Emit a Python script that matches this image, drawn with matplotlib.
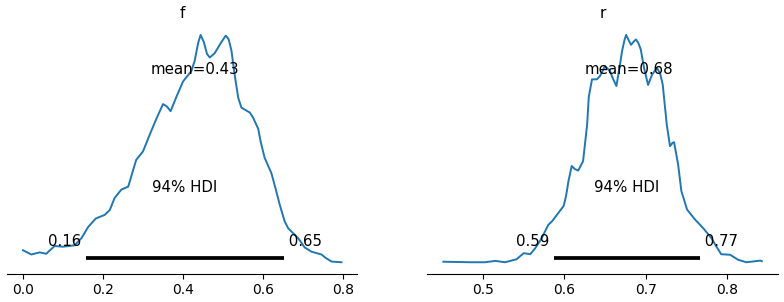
import numpy as np
import matplotlib
matplotlib.use("Agg")
import matplotlib.pyplot as plt

# posterior density of f
f_x = [0.000, 0.021, 0.042, 0.058, 0.079, 0.100, 0.129, 0.146, 0.163, 0.182,
       0.204, 0.217, 0.229, 0.246, 0.263, 0.274, 0.283, 0.300, 0.317, 0.334,
       0.350, 0.359, 0.369, 0.384, 0.400, 0.421, 0.429, 0.438, 0.444, 0.452,
       0.460, 0.467, 0.479, 0.496, 0.507, 0.514, 0.521, 0.529, 0.538, 0.546,
       0.567, 0.575, 0.588, 0.594, 0.604, 0.621, 0.632, 0.642, 0.654, 0.663,
       0.688, 0.704, 0.721, 0.746, 0.757, 0.771, 0.796]
f_d = [0.17, 0.11, 0.14, 0.12, 0.23, 0.22, 0.24, 0.34, 0.50, 0.62,
       0.67, 0.74, 0.91, 1.03, 1.07, 1.28, 1.45, 1.57, 1.81, 2.04,
       2.24, 2.21, 2.14, 2.35, 2.56, 2.71, 2.85, 3.11, 3.22, 3.12,
       2.95, 2.90, 2.96, 3.12, 3.21, 3.16, 3.00, 2.66, 2.33, 2.19,
       2.12, 2.05, 1.89, 1.71, 1.48, 1.26, 1.03, 0.81, 0.58, 0.48,
       0.34, 0.21, 0.15, 0.11, 0.06, 0.01, 0.00]

# posterior density of r
r_x = [0.451, 0.484, 0.502, 0.515, 0.527, 0.541, 0.550, 0.558, 0.564, 0.572,
       0.580, 0.585, 0.599, 0.602, 0.605, 0.609, 0.613, 0.617, 0.623, 0.628,
       0.630, 0.634, 0.640, 0.644, 0.650, 0.656, 0.660, 0.664, 0.668, 0.671,
       0.674, 0.676, 0.679, 0.682, 0.685, 0.688, 0.691, 0.694, 0.698, 0.703,
       0.708, 0.714, 0.718, 0.721, 0.726, 0.730, 0.733, 0.735, 0.740, 0.744,
       0.751, 0.761, 0.771, 0.781, 0.786, 0.793, 0.804, 0.814, 0.824, 0.841,
       0.843]
r_d = [0.02, 0.00, 0.00, 0.05, 0.00, 0.11, 0.34, 0.30, 0.52, 0.90,
       1.39, 1.54, 2.10, 2.47, 3.03, 3.60, 3.48, 3.43, 3.78, 5.15,
       6.18, 6.84, 6.84, 6.97, 7.34, 7.15, 6.85, 6.59, 7.30, 7.90,
       8.31, 8.50, 8.31, 8.13, 8.24, 8.33, 8.20, 7.96, 7.27, 6.63,
       7.02, 7.27, 7.04, 6.65, 5.15, 4.34, 4.46, 4.49, 3.65, 2.66,
       1.97, 1.59, 1.27, 0.90, 0.64, 0.30, 0.28, 0.09, 0.00, 0.06,
       0.04]

names = ["f", "r"]
means = [0.43, 0.68]
hdi_low = [0.157, 0.587]
hdi_high = [0.653, 0.767]
hdi_low_lbl = ["0.16", "0.59"]
hdi_high_lbl = ["0.65", "0.77"]
mean_lbl = ["mean=0.43", "mean=0.68"]

fig, axes = plt.subplots(1, 2, figsize=(7.84, 3.02), dpi=100)
fig.subplots_adjust(left=0.009, right=0.992, top=0.922, bottom=0.094, wspace=0.2)

series = [(f_x, f_d), (r_x, r_d)]
for i, ax in enumerate(axes):
    xs, ds = series[i]
    ax.plot(xs, ds, color="C0", lw=1.4)
    h = max(ds)
    ax.plot([hdi_low[i], hdi_high[i]], [h * 0.02, h * 0.02], lw=2.7, color="k",
            solid_capstyle="butt")
    ax.text(hdi_low[i], h * 0.07, hdi_low_lbl[i] + " ", size=10.8, ha="right")
    ax.text(hdi_high[i], h * 0.07, " " + hdi_high_lbl[i], size=10.8, ha="left")
    ax.text((hdi_low[i] + hdi_high[i]) / 2, h * 0.31, "94% HDI", size=10.8, ha="center")
    ax.text(means[i], h * 0.83, mean_lbl[i], size=10.8, ha="center")
    ax.set_title(names[i], fontsize=11, pad=4)
    ax.spines["left"].set_visible(False)
    ax.spines["right"].set_visible(False)
    ax.spines["top"].set_visible(False)
    ax.get_yaxis().set_visible(False)
    ax.tick_params(axis="x", labelsize=10)

axes[0].set_xticks([0.0, 0.2, 0.4, 0.6, 0.8])
axes[1].set_xticks([0.5, 0.6, 0.7, 0.8])

plt.savefig("out.png")
